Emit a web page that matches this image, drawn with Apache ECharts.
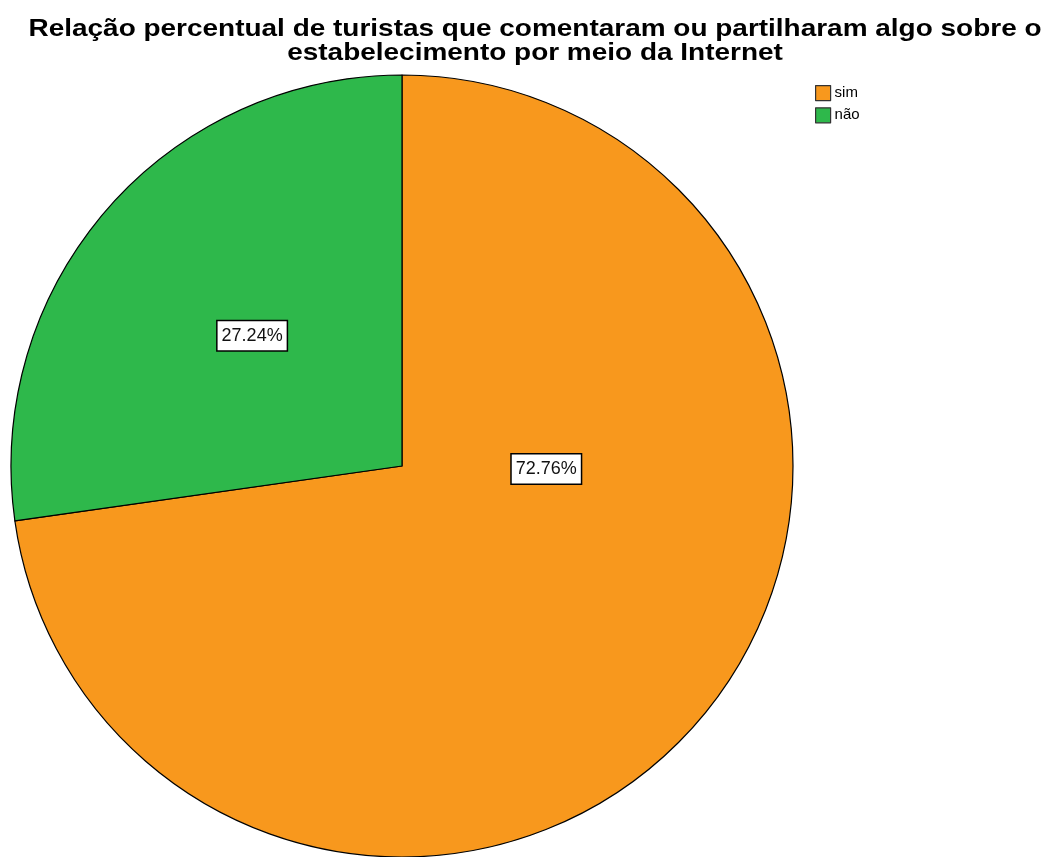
<!DOCTYPE html>
<html>
<head>
<meta charset="utf-8">
<script src="https://cdn.jsdelivr.net/npm/echarts@6/dist/echarts.min.js"></script>
<style>
  html, body { margin: 0; padding: 0; background: #ffffff; }
  #chart { width: 1052px; height: 857px; }
</style>
</head>
<body>
<div id="chart"></div>
<script>
// Share of tourists who commented or shared something about the venue online
const titleLines = [
  'Relação percentual de turistas que comentaram ou partilharam algo sobre o',
  'estabelecimento por meio da Internet'
];
const categories = ['sim', 'não'];
const percentages = [72.76, 27.24];
const sliceColors = ['#F8981D', '#2EB84B'];

const chart = echarts.init(document.getElementById('chart'), null, { renderer: 'canvas' });

const pieCenter = [402, 466];
const pieRadius = 391;
const sansFont = 'Liberation Sans, Arial, sans-serif';

chart.setOption({
  backgroundColor: '#ffffff',
  animation: false,
  // wide bold heading, drawn as a horizontally stretched text element
  graphic: [{
    type: 'text',
    x: 535,
    y: 17,
    scaleX: 1.165,
    style: {
      text: titleLines.join('\n'),
      font: 'bold 24px ' + sansFont,
      lineHeight: 24,
      fill: '#000000',
      align: 'center',
      verticalAlign: 'top'
    }
  }],
  legend: {
    orient: 'vertical',
    left: 815,
    top: 85,
    padding: 0,
    itemWidth: 15,
    itemHeight: 15,
    itemGap: 6,
    icon: 'rect',
    textStyle: {
      fontFamily: sansFont,
      fontSize: 15,
      color: '#000000',
      padding: [0, 0, 0, -1]
    },
    data: categories.map(function (c, i) {
      return {
        name: c,
        itemStyle: { color: sliceColors[i], borderColor: '#333333', borderWidth: 1.2 }
      };
    })
  },
  series: [{
    type: 'pie',
    center: pieCenter,
    radius: pieRadius,
    startAngle: 90,
    clockwise: true,
    minAngle: 0,
    avoidLabelOverlap: false,
    itemStyle: { borderColor: '#000000', borderWidth: 1.2 },
    label: {
      show: true,
      position: 'inside',
      formatter: function (p) { return p.value.toFixed(2) + '%'; },
      fontFamily: sansFont,
      fontSize: 18,
      color: '#111111',
      backgroundColor: '#ffffff',
      borderColor: '#000000',
      borderWidth: 1.5,
      padding: [6, 4, 5, 4]
    },
    labelLine: { show: false },
    // the larger slice's label sits just right of the centre, on the horizontal
    labelLayout: function (params) {
      if (params.dataIndex === 0) {
        return { x: pieCenter[0] + pieRadius * 0.369, y: pieCenter[1] + 3 };
      }
      return {};
    },
    data: categories.map(function (c, i) {
      return { name: c, value: percentages[i], itemStyle: { color: sliceColors[i] } };
    })
  }]
});
</script>
</body>
</html>
